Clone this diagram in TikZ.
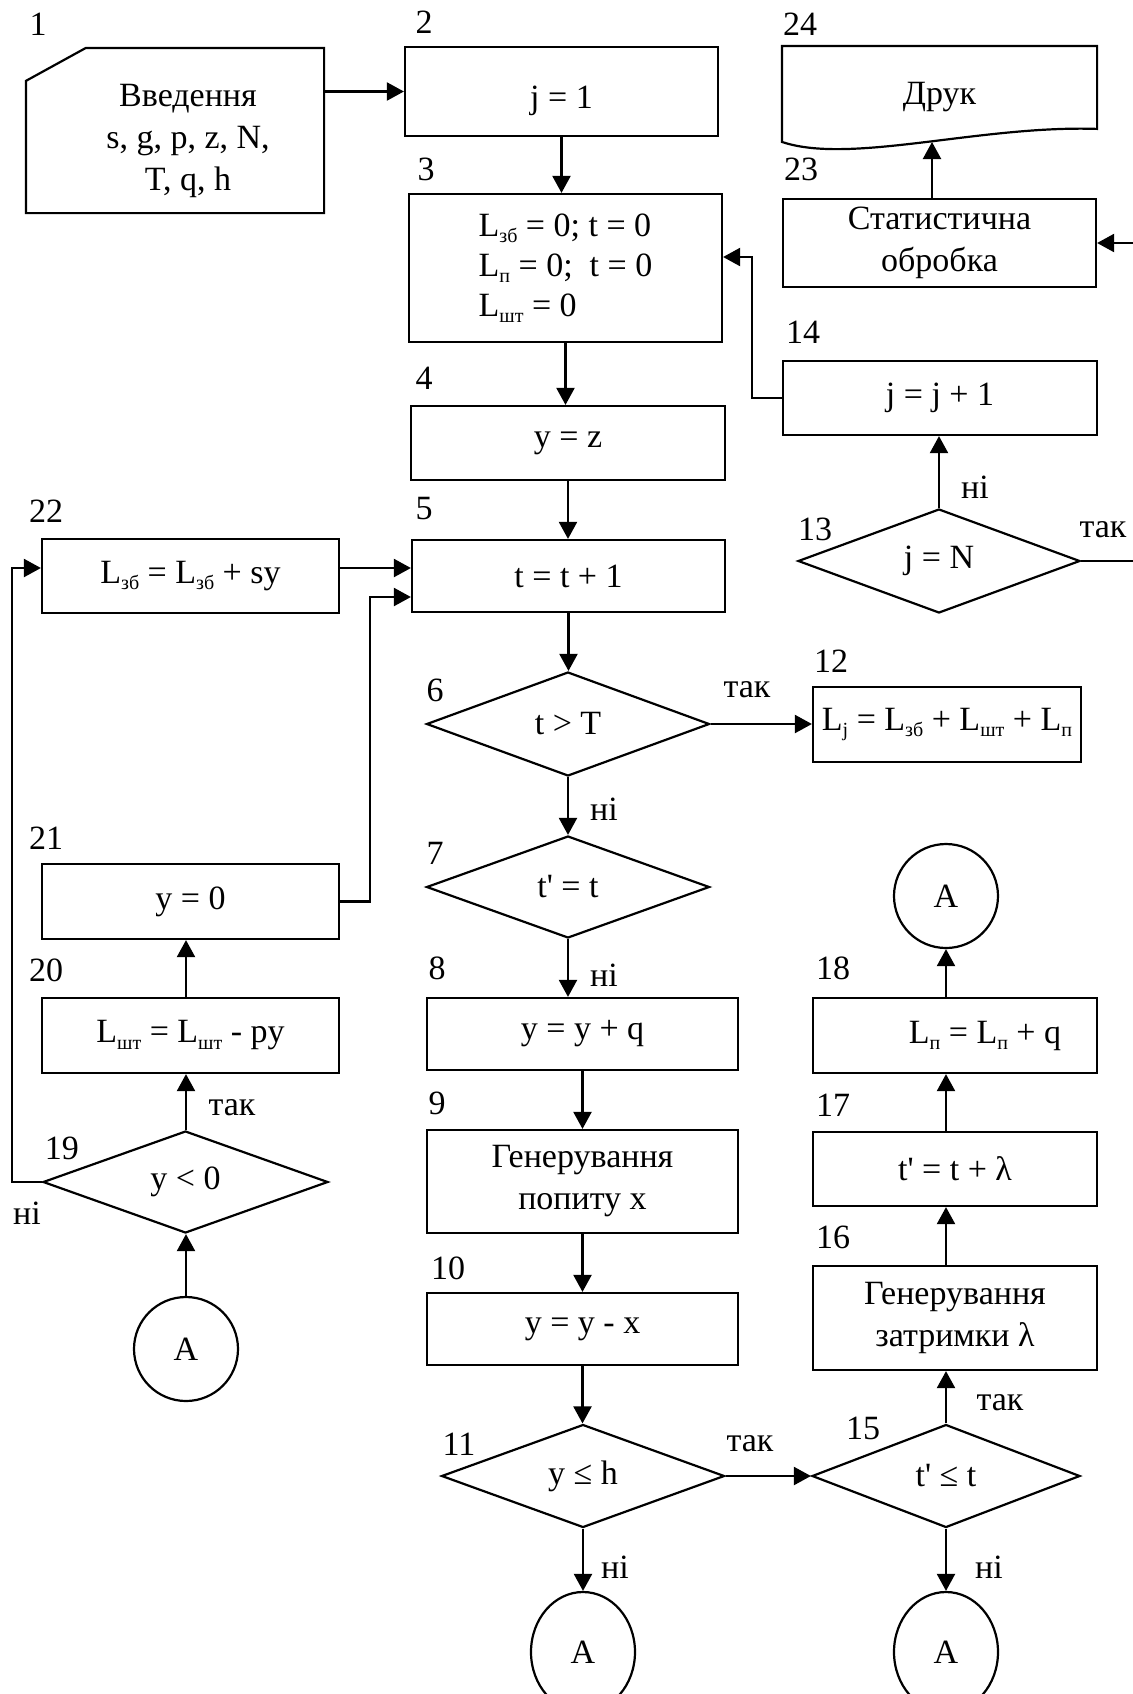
\documentclass[tikz,border=0pt]{standalone}
\usepackage{fontspec}
\setmainfont{Liberation Serif}
\usetikzlibrary{shapes.geometric,arrows.meta,calc}

\newcommand\lsub[1]{\raisebox{-0.4ex}{\fontsize{10}{10}\selectfont #1}}
\newcommand\tpr{t\textquotesingle}

\begin{document}
\begin{tikzpicture}[x=0.5pt, y=-0.5pt, line width=1.1pt,
  font=\fontsize{17}{21}\selectfont,
  box/.style={draw, rectangle, inner sep=0pt, align=center},
  cond/.style={draw, diamond, inner sep=0pt, aspect=2.75},
  conn/.style={draw, circle, inner sep=0pt, minimum size=52pt},
  connlow/.style={draw, ellipse, inner sep=0pt, minimum width=52pt, minimum height=60pt},
  arr/.style={-{Triangle[length=8.5pt, width=9pt]}},
  num/.style={inner sep=0pt}]
\useasboundingbox (0,0) rectangle (1133,1694);

% Input and print
\node[minimum width=148pt, minimum height=81.5pt, inner sep=0pt] (b1) at (175,130.5) {};
\draw (b1.south west) -- ($(b1.north west)+(0,33)$) -- ($(b1.north west)+(60,0)$)
  -- (b1.north east) -- (b1.south east) -- cycle;
\node[align=center, inner sep=0pt] (b1t) at (188,141) {Введення\\s, g, p, z, N,\\T, q, h};

\node[minimum width=156.5pt, minimum height=50pt, inner sep=0pt] (b24) at (939.5,97) {Друк};
\draw (b24.north west) -- (b24.north east) -- ($(b24.north east)+(0,83)$)
  .. controls (980,125) and (850,165) .. ($(b24.north west)+(0,96)$) -- cycle;
\coordinate (w24) at (932,142);

% Main column
\node[box, minimum width=156.5pt, minimum height=44.5pt] (b2) at (561.5,91.5) {\raisebox{-8.5pt}[0pt][0pt]{j = 1}};
\node[box, minimum width=156.5pt, minimum height=74pt, align=left,
  font=\fontsize{17}{20}\selectfont] (b3) at (565.5,268)
  {L\lsub{зб} = 0; t = 0\\L\lsub{п} = 0;\ \ t = 0\\L\lsub{шт} = 0};
\node[box, minimum width=157pt, minimum height=37pt] (b4) at (568,443) {y = z};
\node[box, minimum width=156.5pt, minimum height=36pt] (b5) at (568.5,576) {t = t + 1};
\node[cond, minimum width=141.5pt, minimum height=52pt] (d6) at (568,724) {t > T};
\node[cond, minimum width=141.5pt, minimum height=51pt] (d7) at (568,887) {\tpr{} = t};
\node[box, minimum width=155.5pt, minimum height=36pt] (b8) at (582.5,1034) {y = y + q};
\node[box, minimum width=155.5pt, minimum height=51.5pt] (b9) at (582.5,1181.5) {Генерування\\попиту x};
\node[box, minimum width=155.5pt, minimum height=36pt] (b10) at (582.5,1329) {y = y - x};
\node[cond, minimum width=141.5pt, minimum height=51.5pt] (d11) at (583,1476) {y ≤ h};
\node[connlow] (c11) at (583,1652) {A};

% Right column
\node[box, minimum width=156.5pt, minimum height=44pt] (b23) at (939.5,243) {Статистична\\обробка};
\node[box, minimum width=157pt, minimum height=37pt] (b14) at (940,398) {j = j + 1};
\node[cond, minimum width=141pt, minimum height=52pt] (d13) at (939,561) {j = N};
\node[box, minimum width=134pt, minimum height=37.5pt] (b12) at (947,724.5)
  {L\lsub{j} = L\lsub{зб} + L\lsub{шт} + L\lsub{п}};
\node[conn] (cA) at (946,896) {A};
\node[box, minimum width=142pt, minimum height=37.5pt] (b18) at (955,1035.5)
  {\hspace*{30pt}L\lsub{п} = L\lsub{п} + q};
\node[box, minimum width=142pt, minimum height=37pt] (b17) at (955,1169) {\tpr{} = t + λ};
\node[box, minimum width=142pt, minimum height=52pt] (b16) at (955,1318) {Генерування\\затримки λ};
\node[cond, minimum width=134pt, minimum height=51.5pt] (d15) at (946,1476) {\tpr{} ≤ t};
\node[connlow] (c15) at (946,1652) {A};

% Left column
\node[box, minimum width=148.5pt, minimum height=37pt] (b22) at (190.5,576) {L\lsub{зб} = L\lsub{зб} + sy};
\node[box, minimum width=148.5pt, minimum height=37.5pt] (b21) at (190.5,901.5) {y = 0};
\node[box, minimum width=148.5pt, minimum height=37.5pt] (b20) at (190.5,1035.5) {L\lsub{шт} = L\lsub{шт} - py};
\node[cond, minimum width=142.5pt, minimum height=51pt] (d19) at (185.5,1182) {y < 0};
\node[conn] (c19) at (186,1349) {A};

% Block numbers
\foreach \n/\x/\y in {1/38/24, 2/424/22, 3/426/169, 4/424/378, 5/424/509, 6/435/690,
  7/435/853, 8/437/968, 9/437/1103, 10/448/1268, 11/459/1444, 12/831/661, 13/815/529,
  14/803/332, 15/863/1428, 16/833/1237, 17/833/1105, 18/833/968, 19/62/1148,
  20/46/970, 21/46/838, 22/46/511, 23/801/169, 24/800/24}
  \node[num] (n\n) at (\x,\y) {\n};

% Branch labels
\node (yes6) at (747,690) {так};
\node (no6) at (604,809) {ні};
\node (no7) at (604,975) {ні};
\node (no13) at (975,487) {ні};
\node (yes13) at (1103,530) {так};
\node (yes19) at (232,1108) {так};
\node (no19) at (27,1213) {ні};
\node (yes11) at (750,1444) {так};
\node (yes15) at (1000,1403) {так};
\node (no11) at (615,1567) {ні};
\node (no15) at (989,1567) {ні};

% Downward flow
\foreach \a/\b in {b2/b3, b3/b4, b4/b5, b5/d6, d6/d7, d7/b8, b8/b9, b9/b10, b10/d11, d11/c11, d15/c15}
  \draw[arr] (\a.south) -- (\a.south |- \b.north);

% Upward flow
\foreach \a/\b in {d15/b16, b16/b17, b17/b18, b18/cA}
  \draw[arr] (\a.north -| cA) -- (\b.south -| cA);
\foreach \a/\b in {c19/d19, d19/b20, b20/b21}
  \draw[arr] (\a.north -| c19) -- (\b.south -| c19);
\draw[arr] (d13.north) -- (d13.north |- b14.south);
\draw[arr] (b23.north -| w24) -- (w24);

% Side branches
\draw[arr] (b1.east |- b2.west) -- (b2.west);
\draw[arr] (d6.east) -- (d6.east -| b12.west);
\draw[arr] (d11.east) -- (d15.west);
\draw[arr] ($(b22.east)+(0,-8)$) -- ($(b5.west)+(0,-8)$);
\draw[arr] (b21.east) -- ++(30,0) |- ($(b5.west)+(0,21)$);
\draw[arr] (d19.west) -- ++(-30,0) |- ($(b22.west)+(0,-8)$);
\draw[arr] (b14.west) -- ++(-30,0) |- ($(b3.east)+(0,-11)$);
\draw[arr] (d13.east) -- ++(60,0) |- (b23.east);

\end{tikzpicture}
\end{document}
